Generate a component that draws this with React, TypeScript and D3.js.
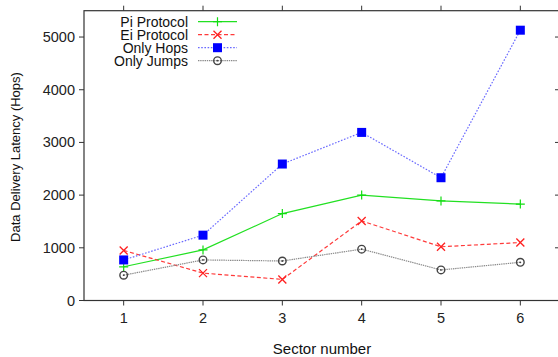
import React, { Component } from "react"
import * as d3 from "d3"

const sectors = [1, 2, 3, 4, 5, 6]
const yTicks = [0, 1000, 2000, 3000, 4000, 5000]
const piProtocol = [640, 960, 1650, 2000, 1890, 1830]
const eiProtocol = [950, 520, 400, 1510, 1020, 1100]
const onlyHops = [770, 1240, 2590, 3190, 2330, 5130]
const onlyJumps = [480, 770, 750, 975, 580, 725]

const seriesNames = ["Pi Protocol", "Ei Protocol", "Only Hops", "Only Jumps"]

const FONT = "'Liberation Sans', Arial, sans-serif"

type Series = { name: string, values: number[], color: string, dash: string | null, marker: string, markerColor: string }

class App extends Component {
	svg: SVGSVGElement | null = null

	render() {
		return (
			<div style={{ position: "fixed", left: 0, top: 0 }}>
				<svg ref={r => { this.svg = r }} width={558} height={357} style={{ display: "block", background: "#fff" }} />
			</div>
		)
	}

	componentDidMount() {
		this.plot()
	}

	plot() {
		const svg = d3.select(this.svg)
		svg.selectAll("*").remove()

		const left = 84, right = 560, top = 10.7, bottom = 300.5

		const x = d3.scaleLinear().domain([0.5, 6.5]).range([left, right])
		const y = d3.scaleLinear().domain([0, 5500]).range([bottom, top])

		const series: Series[] = [
			{ name: seriesNames[0], values: piProtocol, color: "#22e022", dash: null, marker: "plus", markerColor: "#11dd11" },
			{ name: seriesNames[1], values: eiProtocol, color: "#ff3a3a", dash: "4,2.5", marker: "cross", markerColor: "#ff2020" },
			{ name: seriesNames[2], values: onlyHops, color: "#6a6aff", dash: "1.6,1.6", marker: "square", markerColor: "#0000ff" },
			{ name: seriesNames[3], values: onlyJumps, color: "#8a8a8a", dash: "1.4,0.8", marker: "circle", markerColor: "#444" }
		]

		const drawMarker = (g: any, kind: string, cx: number, cy: number, color: string) => {
			if (kind === "plus") {
				g.append("path").attr("d", `M${cx - 4.5},${cy}H${cx + 4.5}M${cx},${cy - 4.5}V${cy + 4.5}`)
					.attr("stroke", color).attr("stroke-width", 1.2).attr("fill", "none")
			} else if (kind === "cross") {
				g.append("path").attr("d", `M${cx - 4},${cy - 4}L${cx + 4},${cy + 4}M${cx - 4},${cy + 4}L${cx + 4},${cy - 4}`)
					.attr("stroke", color).attr("stroke-width", 1.3).attr("fill", "none")
			} else if (kind === "square") {
				g.append("rect").attr("x", cx - 4.5).attr("y", cy - 4.5).attr("width", 9).attr("height", 9)
					.attr("fill", color)
			} else {
				g.append("circle").attr("cx", cx).attr("cy", cy).attr("r", 3.8)
					.attr("fill", "none").attr("stroke", color).attr("stroke-width", 1.4)
				g.append("circle").attr("cx", cx).attr("cy", cy).attr("r", 0.9).attr("fill", color)
			}
		}

		// frame
		const axisColor = "#333"
		svg.append("rect").attr("x", left).attr("y", top).attr("width", right - left).attr("height", bottom - top)
			.attr("fill", "none").attr("stroke", axisColor).attr("stroke-width", 1.2)

		// y ticks
		yTicks.forEach(t => {
			svg.append("line").attr("x1", left - 5).attr("x2", left).attr("y1", y(t)).attr("y2", y(t))
				.attr("stroke", axisColor).attr("stroke-width", 1)
			svg.append("line").attr("x1", right - 5).attr("x2", right).attr("y1", y(t)).attr("y2", y(t))
				.attr("stroke", axisColor).attr("stroke-width", 1)
			svg.append("text").attr("x", 75).attr("y", y(t) + 5).attr("text-anchor", "end")
				.attr("font-family", FONT).attr("font-size", 14.5).attr("fill", "#222").text(t)
		})

		// x ticks
		sectors.forEach(s => {
			svg.append("line").attr("x1", x(s)).attr("x2", x(s)).attr("y1", bottom).attr("y2", bottom + 5)
				.attr("stroke", axisColor).attr("stroke-width", 1)
			svg.append("line").attr("x1", x(s)).attr("x2", x(s)).attr("y1", top - 5).attr("y2", top)
				.attr("stroke", axisColor).attr("stroke-width", 1)
			svg.append("text").attr("x", x(s)).attr("y", 323).attr("text-anchor", "middle")
				.attr("font-family", FONT).attr("font-size", 14.5).attr("fill", "#222").text(s)
		})

		// axis labels
		svg.append("text").attr("x", 322).attr("y", 354).attr("text-anchor", "middle")
			.attr("font-family", FONT).attr("font-size", 15).attr("fill", "#111").text("Sector number")
		svg.append("text").attr("transform", "translate(19.5,157) rotate(-90)").attr("text-anchor", "middle")
			.attr("font-family", FONT).attr("font-size", 13).attr("fill", "#111").text("Data Delivery Latency (Hops)")

		// series
		const line = d3.line<number>().x((d, i) => x(sectors[i])).y(d => y(d))
		series.forEach(s => {
			const p = svg.append("path").attr("d", line(s.values)).attr("fill", "none")
				.attr("stroke", s.color).attr("stroke-width", 1.2)
			if (s.dash) p.attr("stroke-dasharray", s.dash)
			const g = svg.append("g")
			s.values.forEach((v, i) => drawMarker(g, s.marker, x(sectors[i]), y(v), s.markerColor))
		})

		// legend
		series.forEach((s, i) => {
			const cy = 21.7 + i * 13
			svg.append("text").attr("x", 188).attr("y", cy + 4.8).attr("text-anchor", "end")
				.attr("font-family", FONT).attr("font-size", 14).attr("fill", "#111").text(s.name)
			const l = svg.append("line").attr("x1", 198).attr("x2", 237).attr("y1", cy).attr("y2", cy)
				.attr("stroke", s.color).attr("stroke-width", 1.2)
			if (s.dash) l.attr("stroke-dasharray", s.dash)
			drawMarker(svg.append("g"), s.marker, 217.5, cy, s.markerColor)
		})
	}
}

export default App
